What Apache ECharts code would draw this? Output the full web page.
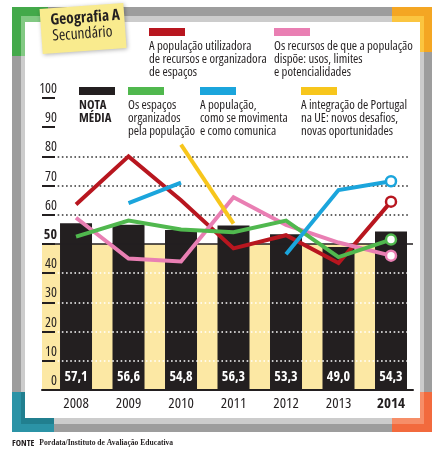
<!DOCTYPE html>
<html><head><meta charset="utf-8">
<script src="https://cdn.jsdelivr.net/npm/echarts@6/dist/echarts.min.js"></script>
<style>html,body{margin:0;padding:0;background:#fff}#c{width:444px;height:449px}</style>
</head><body><div id="c"></div>
<script>
// ---- data ----
const years = ['2008', '2009', '2010', '2011', '2012', '2013', '2014'];
const notaMedia = [57.1, 56.6, 54.8, 56.3, 53.3, 49.0, 54.3];
const utilizadora = [63.5, 80, 65, 48.5, 53, 43.5, 64.5];
const recursos = [59, 45, 44, 66, 56.5, 50.5, 46];
const espacos = [52.5, 58, 55, 54, 58, 45.5, 51.5];
const movimenta = [null, 64, 71, null, 46.5, 68.5, 71.5];
const integracao = [null, null, 84, 57, null, null, null];
const dottedUpper = [60, 70, 80];
const dottedLower = [10, 20, 30, 40];

const legNota = ['NOTA', 'MÉDIA'];
const legUtil = ['A população utilizadora', 'de recursos e organizadora', 'de espaços'];
const legRec = ['Os recursos de que a população', 'dispõe: usos, limites', 'e potencialidades'];
const legEsp = ['Os espaços', 'organizados', 'pela população'];
const legMov = ['A população,', 'como se movimenta', 'e como comunica'];
const legInt = ['A integração de Portugal', 'na UE: novos desafios,', 'novas oportunidades'];

const titleMain = 'Geografia A';
const titleSub = 'Secundário';
const sourceBold = 'FONTE';
const sourceText = 'Pordata/Instituto de Avaliação Educativa';

// ---- styles ----
const FONT = '"Open Sans",Roboto,sans-serif';
const REG = 'normal condensed';
const BOLD = 'bold condensed';
const C = { black: '#231f20', red: '#b8161f', pink: '#e97fb3', green: '#50b84e', blue: '#1ba5dc', yellow: '#f7c61c', area: '#fce8a4' };
const X_MIN = -0.648, X_MAX = 6.419;

const chart = echarts.init(document.getElementById('c'), null, { renderer: 'canvas' });

const nm = a => a.join(' ');

function lineSeries(name, values, color) {
  const last = values.length - 1;
  return {
    type: 'line', name: name, z: 5, silent: true,
    data: values.map((v, i) => [i, v == null ? '-' : v]),
    symbol: 'circle', showSymbol: true,
    symbolSize: (val, p) => (p.dataIndex === last && values[last] != null) ? 10 : 0,
    lineStyle: { color: color, width: 4, join: 'miter' },
    itemStyle: { color: '#fff', borderColor: color, borderWidth: 2.5 },
    emphasis: { disabled: true }
  };
}

const legendDefs = [
  { lines: legUtil, color: C.red, left: 148, top: 28 },
  { lines: legRec, color: C.pink, left: 273, top: 28 },
  { lines: legNota, color: C.black, left: 79, top: 87, bold: true },
  { lines: legEsp, color: C.green, left: 127, top: 87 },
  { lines: legMov, color: C.blue, left: 199, top: 87 },
  { lines: legInt, color: C.yellow, left: 300, top: 87 }
];

const legends = legendDefs.map(d => ({
  data: [nm(d.lines)], left: d.left - 5, top: d.top, padding: 0,
  itemWidth: 0, itemHeight: 0, selectedMode: false,
  formatter: () => '{sw|}\n{gap| }\n' + d.lines.map(l => '{' + (d.bold ? 'tb' : 't') + '|' + l + '}').join('\n'),
  textStyle: {
    rich: {
      sw: { width: 36, height: 8, lineHeight: 8, fontSize: 1, backgroundColor: d.color },
      gap: { fontSize: 1, lineHeight: 4 },
      t: { fontFamily: FONT, fontWeight: REG, fontSize: 12.7, lineHeight: 13, color: '#231f20' },
      tb: { fontFamily: FONT, fontWeight: BOLD, fontSize: 12.7, lineHeight: 13, color: '#231f20' }
    }
  }
}));

const graphic = [
  { type: 'rect', shape: { x: 12, y: 7, width: 420, height: 425 }, style: { fill: '#9d9d9d' } },
  { type: 'rect', shape: { x: 21, y: 16, width: 403, height: 408 }, style: { fill: '#cccccc' } },
  { type: 'rect', shape: { x: 25, y: 22, width: 395, height: 396 }, style: { fill: '#ffffff' } },
  { type: 'polygon', shape: { points: [[12,7],[48,7],[48,22],[25,22],[25,56],[12,56]] }, style: { fill: '#43a94a' } },
  { type: 'polygon', shape: { points: [[21,16],[48,16],[48,22],[25,22],[25,56],[21,56]] }, style: { fill: '#82c983' } },
  { type: 'polygon', shape: { points: [[392,7],[432,7],[432,52],[420,52],[420,22],[392,22]] }, style: { fill: '#f4a623' } },
  { type: 'polygon', shape: { points: [[392,16],[424,16],[424,52],[420,52],[420,22],[392,22]] }, style: { fill: '#fbc540' } },
  { type: 'polygon', shape: { points: [[12,392],[25,392],[25,418],[54,418],[54,432],[12,432]] }, style: { fill: '#2b93a6' } },
  { type: 'polygon', shape: { points: [[21,392],[25,392],[25,418],[54,418],[54,424],[21,424]] }, style: { fill: '#217f8f' } },
  { type: 'polygon', shape: { points: [[420,392],[432,392],[432,432],[392,432],[392,418],[420,418]] }, style: { fill: '#f26a3d' } },
  { type: 'polygon', shape: { points: [[420,392],[424,392],[424,424],[392,424],[392,418],[420,418]] }, style: { fill: '#f68e68' } },
  {
    type: 'group', x: 83, y: 28, rotation: 0.072,
    children: [
      { type: 'rect', shape: { x: -42, y: -22, width: 84, height: 45 }, style: { fill: '#f9eb8e', shadowBlur: 4, shadowColor: 'rgba(0,0,0,0.3)', shadowOffsetX: 1, shadowOffsetY: 1 } },
      { type: 'text', x: -32, y: -10, style: { text: titleMain, fontFamily: FONT, fontWeight: BOLD, fontSize: 15.5, fill: '#231f20', verticalAlign: 'middle' } },
      { type: 'text', x: -31, y: 6, style: { text: titleSub, fontFamily: FONT, fontWeight: REG, fontSize: 15.5, fill: '#231f20', verticalAlign: 'middle' } }
    ]
  }
];

const option = {
  animation: false,
  graphic: graphic,
  title: {
    text: '{b|' + sourceBold + '} {s|' + sourceText + '}', left: 12, top: 434, padding: 0,
    textStyle: { rich: {
      b: { fontFamily: FONT, fontWeight: BOLD, fontSize: 9, color: '#231f20' },
      s: { fontFamily: '"Liberation Serif","DejaVu Serif",serif', fontSize: 7.6, color: '#231f20' }
    } }
  },
  legend: legends,
  grid: { left: 42, right: 31, top: 98, bottom: 59, outerBoundsMode: 'none', containLabel: false },
  xAxis: {
    type: 'value', min: X_MIN, max: X_MAX, z: 6,
    axisLine: { show: true, onZero: false, lineStyle: { color: C.black, width: 2 } },
    axisTick: { show: false }, splitLine: { show: false },
    axisLabel: {
      customValues: years.map((_, i) => i), margin: 6,
      formatter: v => { const i = Math.round(v); return i === years.length - 1 ? '{b|' + years[i] + '}' : '{n|' + years[i] + '}'; },
      rich: {
        n: { fontFamily: FONT, fontWeight: REG, fontSize: 15, color: C.black },
        b: { fontFamily: FONT, fontWeight: BOLD, fontSize: 15, color: C.black }
      }
    }
  },
  yAxis: {
    type: 'value', min: 0, max: 100, interval: 10, z: 6,
    axisLine: { show: false, onZero: false },
    axisTick: { show: true, inside: true, length: 13, lineStyle: { color: C.black, width: 2 } },
    splitLine: { show: false },
    axisLabel: {
      margin: -15, align: 'right', verticalAlign: 'bottom', padding: [0, 0, 2, 0],
      formatter: v => v === 50 ? '{b|50}' : '{n|' + v + '}',
      rich: {
        n: { fontFamily: FONT, fontWeight: REG, fontSize: 14, color: C.black },
        b: { fontFamily: FONT, fontWeight: BOLD, fontSize: 14, color: C.black }
      }
    }
  },
  series: [
    {
      type: 'line', name: 'fundo', data: [], z: 1, silent: true,
      markArea: { silent: true, itemStyle: { color: C.area }, data: [[{ coord: [X_MIN, 0] }, { coord: [6.305, 50] }]] }
    },
    {
      type: 'bar', name: nm(legNota), z: 2, silent: true, barWidth: 32,
      data: notaMedia.map((v, i) => [i, v]),
      itemStyle: { color: C.black },
      label: { show: true, position: 'insideBottom', distance: 6, color: '#fff', fontFamily: FONT, fontWeight: BOLD, fontSize: 14,
        formatter: p => p.value[1].toFixed(1).replace('.', ',') }
    },
    {
      type: 'line', name: 'grelha', data: [], z: 3, silent: true,
      markLine: {
        silent: true, symbol: 'none', label: { show: false },
        data: dottedLower.map(y => [{ coord: [-0.35, y], lineStyle: { color: '#ffffff', type: [1.6, 2.6], width: 1.6 } }, { coord: [6.35, y] }])
          .concat(dottedUpper.map(y => [{ coord: [-0.35, y], lineStyle: { color: '#333333', type: [1.6, 2.6], width: 1.6 } }, { coord: [6.35, y] }]))
          .concat([{ yAxis: 50, lineStyle: { color: C.black, type: 'solid', width: 1.6 } }])
      }
    },
    lineSeries(nm(legUtil), utilizadora, C.red),
    lineSeries(nm(legRec), recursos, C.pink),
    lineSeries(nm(legEsp), espacos, C.green),
    lineSeries(nm(legMov), movimenta, C.blue),
    lineSeries(nm(legInt), integracao, C.yellow)
  ]
};
chart.setOption(option);
</script></body></html>
